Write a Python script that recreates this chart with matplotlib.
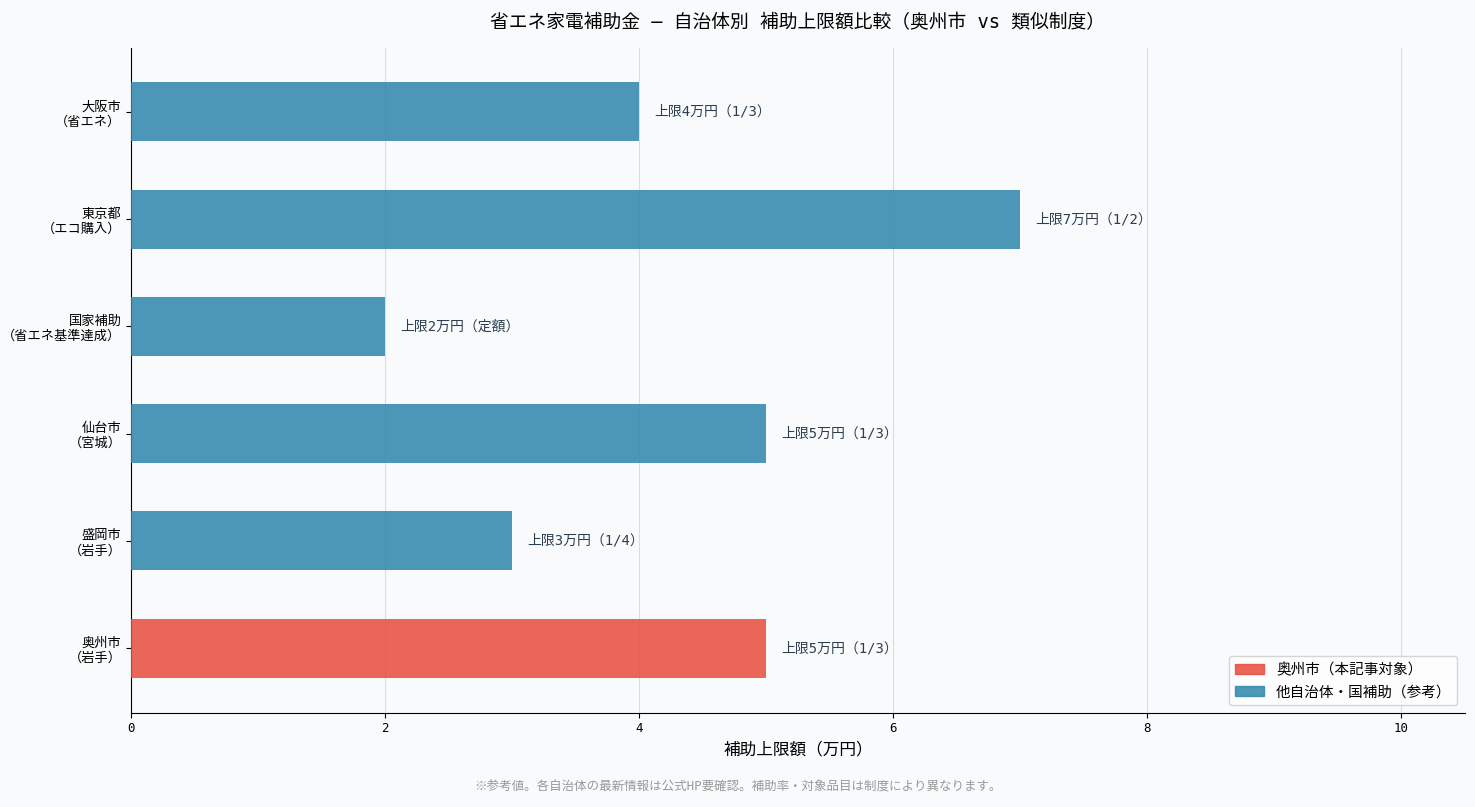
import matplotlib
matplotlib.use("Agg")
import matplotlib.pyplot as plt
from matplotlib.patches import Patch

plt.rcParams['font.family'] = ['DejaVu Sans Mono', 'Noto Sans CJK JP']

cats = ["奥州市\n（岩手）", "盛岡市\n（岩手）", "仙台市\n（宮城）", "国家補助\n（省エネ基準達成）", "東京都\n（エコ購入）", "大阪市\n（省エネ）"]
vals = [5, 3, 5, 2, 7, 4]
labels = ["上限5万円（1/3）", "上限3万円（1/4）", "上限5万円（1/3）", "上限2万円（定額）", "上限7万円（1/2）", "上限4万円（1/3）"]
red, blue = "#e74c3c", "#2e86ab"
colors = [red] + [blue] * 5
bg = "#f8fafc"

fig = plt.figure(figsize=(14.75, 8.07), dpi=100, facecolor=bg)
ax = fig.add_axes([0.089, 0.117, 0.904, 0.824], facecolor=bg)
y = range(len(cats))
ax.barh(y, vals, height=0.55, color=colors, alpha=0.85, zorder=3)
for i, (v, l) in enumerate(zip(vals, labels)):
    ax.text(v + 0.12, i, l, va='center', ha='left', fontsize=10, color='#2c3e50')
ax.set_yticks(list(y))
ax.set_yticklabels(cats, fontsize=9.5)
ax.set_xlim(0, 10.5)
ax.set_ylim(-0.6, 5.6)
ax.tick_params(axis='x', labelsize=9)
ax.grid(axis='x', color='#dddddd', zorder=0)
ax.spines['top'].set_visible(False)
ax.spines['right'].set_visible(False)
ax.set_xlabel("補助上限額（万円）", fontsize=12)
ax.set_title("省エネ家電補助金 ― 自治体別 補助上限額比較（奥州市 vs 類似制度）", fontsize=13.5, pad=14)
ax.legend(handles=[Patch(color=red, alpha=0.85, label="奥州市（本記事対象）"),
                   Patch(color=blue, alpha=0.85, label="他自治体・国補助（参考）")],
          loc='lower right', fontsize=10.5)
fig.text(0.5, 0.02, "※参考値。各自治体の最新情報は公式HP要確認。補助率・対象品目は制度により異なります。",
         ha='center', fontsize=9, color='#999999')
fig.savefig("out.png", facecolor=bg)
